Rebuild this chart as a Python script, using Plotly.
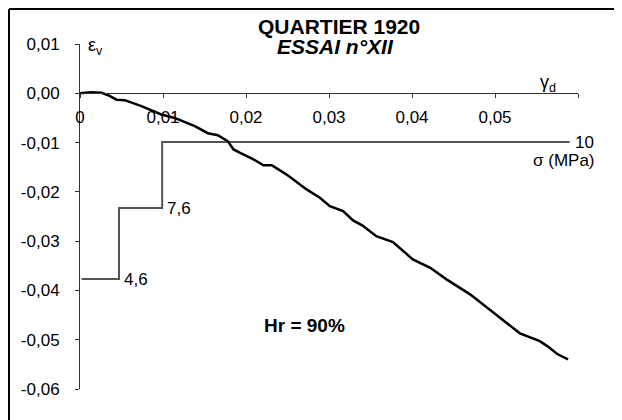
import plotly.graph_objects as go

# gamma_d (x) and epsilon_v (y) curve
gamma_d = [0.0, 0.0008, 0.0014, 0.0026, 0.0034, 0.0044, 0.0054, 0.0074, 0.0098, 0.0114,
           0.0139, 0.0154, 0.0166, 0.0178, 0.0185, 0.0193, 0.0209, 0.0221, 0.0231,
           0.0249, 0.0273, 0.0289, 0.0301, 0.0317, 0.0329, 0.0340, 0.0357, 0.0377,
           0.0401, 0.0422, 0.0442, 0.0470, 0.0500, 0.0530, 0.0554, 0.0563, 0.0575, 0.0588]
eps_v = [0.0, 0.0002, 0.0002, 0.0001, -0.0004, -0.0013, -0.0014, -0.0026, -0.0043, -0.0050,
         -0.0067, -0.0081, -0.0085, -0.0097, -0.0114, -0.0121, -0.0134, -0.0146, -0.0146,
         -0.0165, -0.0195, -0.0212, -0.0229, -0.0239, -0.0258, -0.0268, -0.0290, -0.0302,
         -0.0337, -0.0354, -0.0378, -0.0408, -0.0448, -0.0487, -0.0503, -0.0513, -0.0529, -0.0540]

# sigma steps (MPa) and where they sit on the chart
sigma_levels = [4.6, 7.6, 10]
sigma_gamma = [0.0002, 0.0047, 0.0099, 0.0590]
sigma_plot_y = [-0.0377, -0.0233, -0.0099, -0.0099]

x_ticks = [0, 0.01, 0.02, 0.03, 0.04, 0.05, 0.06]
x_ticktext = ["0", "0,01", "0,02", "0,03", "0,04", "0,05", " "]
y_ticks = [0.01, 0.0, -0.01, -0.02, -0.03, -0.04, -0.05, -0.06]
y_ticktext = ["0,01", "0,00", "-0,01", "-0,02", "-0,03", "-0,04", "-0,05", "-0,06"]

FONT = "Arial, Liberation Sans, sans-serif"

# page body has an 8px default margin: compensate
OFF = 8
L, T, PW, PH = 80 - OFF, 44 - OFF, 498, 345
W, H = 622 - OFF, 420 - OFF

fig = go.Figure()
fig.add_trace(go.Scatter(x=sigma_gamma, y=sigma_plot_y, mode="lines", line_shape="hv",
                         line=dict(color="#555555", width=2), hoverinfo="skip"))
fig.add_trace(go.Scatter(x=gamma_d, y=eps_v, mode="lines",
                         line=dict(color="black", width=2.5), hoverinfo="skip"))

# sigma labels at step corners
label_pos = [(sigma_gamma[1], sigma_plot_y[0]), (sigma_gamma[2], sigma_plot_y[1]),
             (sigma_gamma[3], sigma_plot_y[2])]
for lvl, (gx, gy) in zip(sigma_levels, label_pos):
    fig.add_annotation(x=gx, y=gy, xref="x", yref="y", text=str(lvl).replace(".", ","),
                       showarrow=False, xanchor="left", yanchor="middle", xshift=3,
                       font=dict(family=FONT, size=17, color="black"))


def px2paper(px, py):
    return (px - 80) / PW, (389 - py) / PH


def pannot(text, px, py, size=17, bold=False, italic=False, anchor="center"):
    t = text
    if bold:
        t = "<b>" + t + "</b>"
    if italic:
        t = "<i>" + t + "</i>"
    xp, yp = px2paper(px, py)
    fig.add_annotation(x=xp, y=yp, xref="paper", yref="paper",
                       text=t, showarrow=False, xanchor=anchor, yanchor="middle",
                       font=dict(family=FONT, size=size, color="black"))


pannot("QUARTIER 1920", 339, 27, size=21, bold=True)
pannot("ESSAI n°XII", 335, 47, size=21, bold=True, italic=True)
pannot("ε<sub>v</sub>", 95, 47, size=18)
pannot("γ<sub>d</sub>", 548, 84, size=18)
pannot("σ (MPa)", 564, 160, size=17)
pannot("Hr = 90%", 304, 325, size=19, bold=True)

# outer frame (top and left edges)
fx0, fy0 = px2paper(OFF + 1, OFF + 1)
fx1, fy1 = px2paper(660, 460)
fig.add_shape(type="line", xref="paper", yref="paper",
              x0=fx0, x1=fx1, y0=fy0, y1=fy0, line=dict(color="black", width=2))
fig.add_shape(type="line", xref="paper", yref="paper",
              x0=fx0, x1=fx0, y0=fy0, y1=fy1, line=dict(color="black", width=2))

fig.update_layout(
    width=W, height=H,
    margin=dict(l=L, r=W - L - PW, t=T, b=H - T - PH),
    paper_bgcolor="white", plot_bgcolor="white",
    showlegend=False,
    font=dict(family=FONT, size=17, color="black"),
    xaxis=dict(range=[0, 0.06], tickvals=x_ticks, ticktext=x_ticktext,
               showgrid=False, zeroline=False, showline=True, linecolor="#333333",
               linewidth=1, ticks="outside", ticklen=4, tickcolor="#333333",
               anchor="free", position=6 / 7, ticklabelstandoff=4,
               tickfont=dict(family=FONT, size=17, color="black")),
    yaxis=dict(range=[-0.06, 0.01], tickvals=y_ticks, ticktext=y_ticktext,
               showgrid=False, zeroline=False, showline=True, linecolor="#333333",
               linewidth=1, ticks="outside", ticklen=4, tickcolor="#333333",
               ticklabelstandoff=12,
               tickfont=dict(family=FONT, size=17, color="black")),
)

fig.write_html("out.html")
